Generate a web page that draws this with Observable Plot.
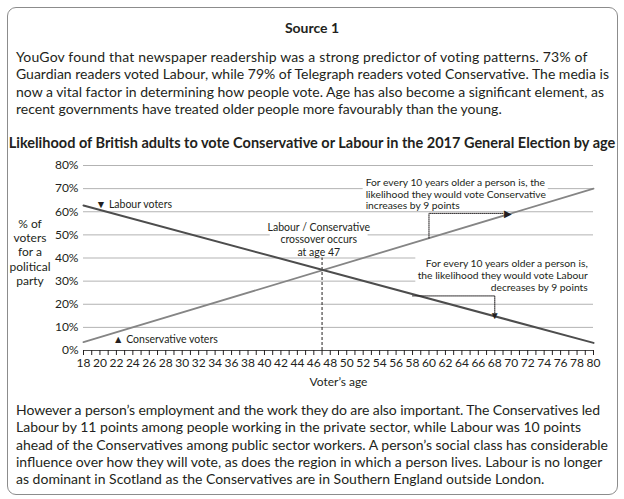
<!DOCTYPE html>
<html>
<head>
<meta charset="utf-8">
<script src="https://cdn.jsdelivr.net/npm/d3@7"></script>
<script src="https://cdn.jsdelivr.net/npm/@observablehq/plot@0.6"></script>
<style>
  html, body { margin: 0; padding: 0; background: #fff; }
  body { width: 624px; height: 499px; position: relative; overflow: hidden; font-family: Lato, "Open Sans", sans-serif; color: #231f20; }
  .box { position: absolute; left: 7px; top: 7px; width: 609px; height: 486px; border: 1px solid #8c8c8c; border-radius: 9px; }
  .abs { position: absolute; white-space: nowrap; }
  .h { font-weight: bold; font-size: 14px; line-height: 18px; }
  .p { font-size: 14px; line-height: 17.3px; left: 16px; }
  .ylab { position: absolute; left: 0; width: 60px; text-align: center; font-size: 12px; line-height: 14.2px; }
  #chart { position: absolute; left: 0; top: 155px; }
</style>
</head>
<body>
<div class="box"></div>
<div class="abs h" style="left:0;width:624px;text-align:center;top:19px;">Source 1</div>
<div class="abs p" style="top:48px;">
<span style="letter-spacing:0.17px">YouGov found that newspaper readership was a strong predictor of voting patterns. 73% of</span><br>
Guardian readers voted Labour, while 79% of Telegraph readers voted Conservative. The media is<br>
now a vital factor in determining how people vote. Age has also become a significant element, as<br>
recent governments have treated older people more favourably than the young.
</div>
<div class="abs h" style="left:0;width:624px;text-align:center;top:134px;font-size:14.5px;">Likelihood of British adults to vote Conservative or Labour in the 2017 General Election by age</div>
<div class="ylab" style="top:217px;">% of<br>voters<br>for a<br>political<br>party</div>
<div id="chart"></div>
<div class="abs p" style="top:401px;">
<span style="letter-spacing:-0.08px">However a person’s employment and the work they do are also important. The Conservatives led</span><br>
Labour by 11 points among people working in the private sector, while Labour was 10 points<br>
ahead of the Conservatives among public sector workers. A person’s social class has considerable<br>
influence over how they will vote, as does the region in which a person lives. Labour is no longer<br>
as dominant in Scotland as the Conservatives are in Southern England outside London.
</div>
<script>
// ---- data ----
const ages = [18, 80];
const labourShare = [62.7, 3.3];
const conservativeShare = [3.6, 70];
const yTicks = [0, 10, 20, 30, 40, 50, 60, 70, 80];
const gridLevels = [10, 20, 30, 40, 50, 60, 70, 80];
const xTickAges = d3.range(18, 81);
const crossoverAge = 47;

// annotation anchor points (age, share)
const consArrowPath = [{age: 60, v: 48.6}, {age: 60, v: 59.3}, {age: 69, v: 59.3}];
const labArrowPath = [{age: 58, v: 23.6}, {age: 68, v: 23.6}, {age: 68, v: 16}];
const arrowHeads = [{age: 69.6, v: 59.3, glyph: "▶"}, {age: 68, v: 14.9, glyph: "▼"}];
const labelBoxes = [
  {x1: 40.7, x2: 52.6, y1: 45.5, y2: 56},
  {x1: 52.0, x2: 74.5, y1: 62, y2: 78},
  {x1: 58.4, x2: 80, y1: 24.5, y2: 44}
];

const labourData = ages.map((a, i) => ({age: a, v: labourShare[i]}));
const consData = ages.map((a, i) => ({age: a, v: conservativeShare[i]}));

const chart = Plot.plot({
  width: 624,
  height: 240,
  marginLeft: 83,
  marginRight: 31,
  marginTop: 10,
  marginBottom: 45,
  x: {domain: [18, 80]},
  y: {domain: [0, 80]},
  style: {fontFamily: "Lato, sans-serif", fontSize: "12px", color: "#231f20", background: "transparent", overflow: "visible"},
  marks: [
    Plot.ruleY(gridLevels, {stroke: "#b3b3b3", strokeWidth: 1}),
    Plot.rect(labelBoxes, {x1: "x1", x2: "x2", y1: "y1", y2: "y2", fill: "white"}),
    Plot.ruleX([crossoverAge], {y1: 0, y2: 40, stroke: "#231f20", strokeWidth: 1, strokeDasharray: "3,2"}),
    Plot.line(consData, {x: "age", y: "v", stroke: "#858585", strokeWidth: 1.8}),
    Plot.line(labourData, {x: "age", y: "v", stroke: "#4d4d4d", strokeWidth: 2}),
    Plot.line(consArrowPath, {x: "age", y: "v", stroke: "#231f20", strokeWidth: 1, strokeDasharray: "1,1"}),
    Plot.line(labArrowPath, {x: "age", y: "v", stroke: "#231f20", strokeWidth: 1, strokeDasharray: "1,1"}),
    Plot.text(arrowHeads, {x: "age", y: "v", text: "glyph", fontSize: 10, fill: "#231f20"}),
    Plot.ruleY([0], {stroke: "#4d4d4d", strokeWidth: 1}),
    Plot.axisX({ticks: xTickAges, tickSize: 5, tickPadding: 3, tickFormat: d => d % 2 ? "" : d, label: null, fontSize: 12}),
    Plot.axisY({ticks: yTicks, tickSize: 0, tickPadding: 5, tickFormat: d => d + "%", label: null, fontSize: 12}),
    Plot.text(["▼ Labour voters"], {x: 19.5, y: 63.1, textAnchor: "start", fontSize: 10.5}),
    Plot.text(["▲ Conservative voters"], {x: 21.6, y: 4.8, textAnchor: "start", fontSize: 10.5}),
    Plot.text(["Labour / Conservative\ncrossover occurs\nat age 47"], {x: 46.6, y: 55.6, textAnchor: "middle", lineAnchor: "top", lineHeight: 1.2, fontSize: 10.5}),
    Plot.text(["For every 10 years older a person is, the\nlikelihood they would vote Conservative\nincreases by 9 points"], {x: 52.3, y: 74.6, textAnchor: "start", lineAnchor: "top", lineHeight: 1.12, fontSize: 10.3}),
    Plot.text(["For every 10 years older a person is,\nthe likelihood they would vote Labour\ndecreases by 9 points"], {x: 79.3, y: 39.8, textAnchor: "end", lineAnchor: "top", lineHeight: 1.15, fontSize: 10.3}),
    Plot.text(["Voter’s age"], {frameAnchor: "bottom", dy: 35, fontSize: 12})
  ]
});
document.getElementById("chart").appendChild(chart);
</script>
</body>
</html>
